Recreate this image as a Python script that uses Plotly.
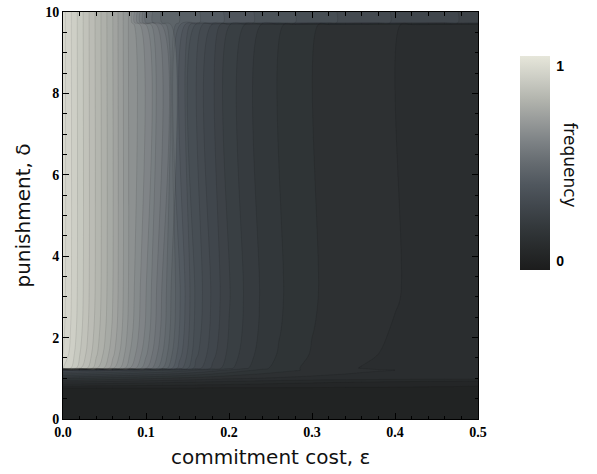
import plotly.graph_objects as go

# ---- data ----
eps = [0.00, 0.02, 0.04, 0.06, 0.08, 0.10, 0.12, 0.14, 0.16, 0.18, 0.20, 0.22, 0.24,
       0.26, 0.28, 0.30, 0.32, 0.34, 0.36, 0.38, 0.40, 0.42, 0.44, 0.46, 0.48, 0.50]

delta = [0.0, 0.75, 0.9, 1.0, 1.2, 1.25, 1.6, 2.2, 3.0, 9.69, 9.74, 10.0]

freq_d0 = [0.035, 0.035, 0.035, 0.035, 0.035, 0.035, 0.035, 0.035, 0.035, 0.035, 0.035, 0.035, 0.035,
           0.035, 0.035, 0.035, 0.035, 0.035, 0.035, 0.035, 0.035, 0.035, 0.035, 0.035, 0.035, 0.035]
freq_d075 = [0.045, 0.045, 0.045, 0.045, 0.045, 0.045, 0.045, 0.045, 0.045, 0.045, 0.045, 0.045, 0.045,
             0.045, 0.045, 0.045, 0.045, 0.045, 0.045, 0.045, 0.045, 0.045, 0.045, 0.045, 0.045, 0.045]
freq_d09 = [0.12, 0.118, 0.115, 0.112, 0.109, 0.106, 0.103, 0.1, 0.097, 0.094, 0.091, 0.088, 0.085,
            0.082, 0.08, 0.078, 0.076, 0.074, 0.072, 0.07, 0.068, 0.066, 0.064, 0.062, 0.06, 0.058]
freq_d10 = [0.18, 0.175, 0.17, 0.165, 0.16, 0.155, 0.15, 0.145, 0.14, 0.135, 0.13, 0.127, 0.124,
            0.121, 0.119, 0.117, 0.115, 0.114, 0.113, 0.112, 0.111, 0.11, 0.11, 0.11, 0.11, 0.11]
freq_d12 = [0.31, 0.30, 0.29, 0.28, 0.27, 0.26, 0.25, 0.24, 0.225, 0.21, 0.195, 0.18, 0.17,
            0.16, 0.152, 0.145, 0.14, 0.135, 0.13, 0.127, 0.125, 0.123, 0.122, 0.121, 0.12, 0.12]
freq_d125 = [0.935, 0.86, 0.785, 0.71, 0.63, 0.555, 0.475, 0.39, 0.315, 0.27, 0.232, 0.204, 0.181,
             0.166, 0.153, 0.142, 0.135, 0.129, 0.124, 0.12, 0.117, 0.114, 0.112, 0.109, 0.107, 0.105]
freq_d16 = [0.95, 0.877, 0.805, 0.732, 0.652, 0.58, 0.5, 0.413, 0.332, 0.284, 0.243, 0.213, 0.189,
            0.173, 0.16, 0.148, 0.140, 0.134, 0.130, 0.125, 0.122, 0.119, 0.116, 0.113, 0.111, 0.109]
freq_d22 = [0.957, 0.886, 0.815, 0.745, 0.665, 0.595, 0.515, 0.426, 0.341, 0.292, 0.249, 0.219, 0.194,
            0.177, 0.163, 0.151, 0.143, 0.137, 0.132, 0.127, 0.124, 0.121, 0.118, 0.115, 0.113, 0.111]
freq_mid = [0.96, 0.89, 0.82, 0.75, 0.67, 0.60, 0.52, 0.43, 0.345, 0.295, 0.252, 0.221, 0.196,
            0.179, 0.165, 0.153, 0.145, 0.139, 0.134, 0.129, 0.126, 0.123, 0.120, 0.117, 0.115, 0.113]
freq_top = [0.96, 0.89, 0.82, 0.75, 0.67, 0.52, 0.47, 0.45, 0.43, 0.41, 0.395, 0.38, 0.37,
            0.36, 0.35, 0.34, 0.33, 0.32, 0.312, 0.305, 0.298, 0.291, 0.285, 0.279, 0.274, 0.27]

z = [freq_d0, freq_d075, freq_d09, freq_d10, freq_d12, freq_d125, freq_d16, freq_d22,
     freq_mid, freq_mid, freq_top, freq_top]

x_ticks = [0.0, 0.1, 0.2, 0.3, 0.4, 0.5]
x_ticklabels = ["0.0", "0.1", "0.2", "0.3", "0.4", "0.5"]
y_ticks = [0, 2, 4, 6, 8, 10]
y_ticklabels = ["0", "2", "4", "6", "8", "10"]
cbar_ticks = [0, 1]
cbar_ticklabels = ["0", "1"]

# ---- styling ----
gray_tones = [
    [0.0, "#1c1c1c"], [0.1, "#272a2b"], [0.2, "#33383b"], [0.3, "#41474d"],
    [0.4, "#50575e"], [0.5, "#656b70"], [0.6, "#7d8285"], [0.7, "#989b9a"],
    [0.8, "#b3b5ae"], [0.9, "#cdcec5"], [1.0, "#e6e6da"],
]
cmin, cmax = -0.047, 1.051

fig = go.Figure()
fig.add_trace(go.Contour(
    x=eps, y=delta, z=z,
    colorscale=gray_tones, zmin=cmin, zmax=cmax,
    autocontour=False,
    contours=dict(start=0.0, end=1.0, size=0.025, coloring="fill", showlines=True),
    line=dict(color="rgba(0,0,0,0.15)", width=0.6),
    showscale=False, hoverinfo="skip",
))
fig.add_trace(go.Scatter(
    x=[None], y=[None], mode="markers", showlegend=False, hoverinfo="skip",
    marker=dict(
        color=[0.5], colorscale=gray_tones, cmin=cmin, cmax=cmax, showscale=True,
        colorbar=dict(
            x=(520 - 63) / 415, xanchor="left", xpad=0,
            y=(419 - 50) / 414, yanchor="top", ypad=0,
            len=214, lenmode="pixels", thickness=30, thicknessmode="pixels",
            outlinewidth=0, ticks="outside", ticklen=4, tickcolor="rgba(0,0,0,0)",
            tickvals=cbar_ticks, ticktext=cbar_ticklabels,
            tickfont=dict(family="Liberation Sans", size=14, color="black", weight="bold"),
        ),
    ),
))

tickfont = dict(family="Liberation Serif", size=14, color="black", weight="bold")
fig.update_xaxes(
    range=[0, 0.5], tickvals=x_ticks, ticktext=x_ticklabels,
    ticks="inside", ticklen=6, tickwidth=1, tickcolor="black",
    minor=dict(dtick=0.02, ticks="inside", ticklen=3.5, tickwidth=1, tickcolor="black"),
    showline=True, linecolor="black", linewidth=1, mirror="ticks",
    showgrid=False, zeroline=False, tickfont=tickfont,
)
fig.update_yaxes(
    range=[0, 10], tickvals=y_ticks, ticktext=y_ticklabels,
    ticks="inside", ticklen=6, tickwidth=1, tickcolor="black",
    minor=dict(dtick=0.5, ticks="inside", ticklen=3.5, tickwidth=1, tickcolor="black"),
    showline=True, linecolor="black", linewidth=1, mirror="ticks",
    showgrid=False, zeroline=False, tickfont=tickfont,
    ticklabeloverflow="allow",
)

title_font = dict(family="DejaVu Sans", size=20, color="#111111")
fig.update_layout(
    width=597, height=474,
    margin=dict(l=63, r=119, t=5, b=55),
    paper_bgcolor="white", plot_bgcolor="white",
    showlegend=False,
    annotations=[
        dict(text="commitment cost, ε", xref="paper", yref="paper",
             x=(270 - 63) / 415, y=(419 - 458) / 414, showarrow=False,
             xanchor="center", yanchor="middle", font=title_font),
        dict(text="punishment, δ", xref="paper", yref="paper",
             x=(22 - 63) / 415, y=0.5, showarrow=False, textangle=-90,
             xanchor="center", yanchor="middle", font=title_font),
        dict(text="frequency", xref="paper", yref="paper",
             x=(570 - 63) / 415, y=(419 - 160) / 414, showarrow=False, textangle=90,
             xanchor="center", yanchor="middle",
             font=dict(family="DejaVu Sans", size=17, color="#111111")),
    ],
)

fig.write_html("out.html", config={"displayModeBar": False},
               post_script="document.body.style.margin='0px';")
